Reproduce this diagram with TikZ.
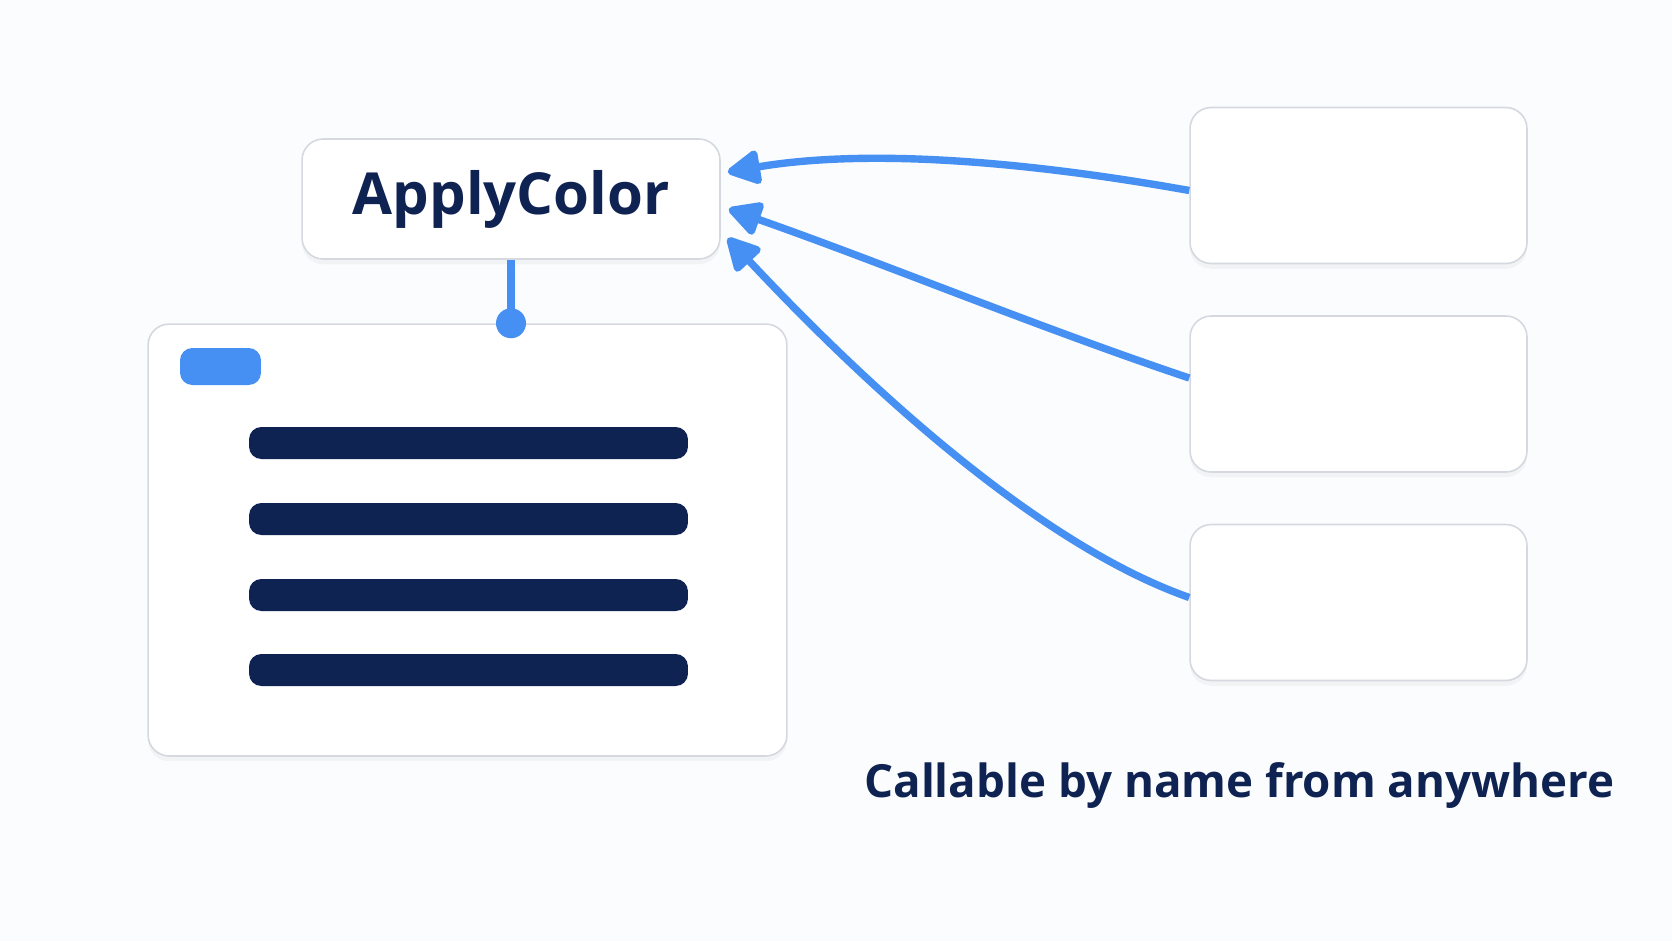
\documentclass[tikz,border=0pt]{standalone}
\usepackage{fontspec}
\setmainfont{Open Sans}
\usetikzlibrary{arrows.meta,shadows,calc}
\definecolor{callblue}{HTML}{4590F2}
\definecolor{navy}{HTML}{0F2352}
\definecolor{edgegray}{HTML}{D5D8DE}
\definecolor{paper}{HTML}{FBFCFD}
\tikzset{
  card/.style={draw=edgegray,line width=0.9pt,fill=white,rounded corners=12pt,
    inner sep=0pt,drop shadow={opacity=0.07,shadow xshift=0pt,shadow yshift=-3pt}},
  bar/.style={fill=navy,rounded corners=7pt,minimum width=8.78cm,minimum height=0.64cm,inner sep=0pt},
  call/.style={draw=callblue,line width=4.2pt,-{Triangle[length=21pt,width=21pt,round]}},
}
\begin{document}
\begin{tikzpicture}[x=0.02cm,y=-0.02cm]
  \fill[paper] (0,0) rectangle (1672,941);
  \useasboundingbox (0,0) rectangle (1672,941);
  % function box and its body
  \node[card,minimum width=8.36cm,minimum height=2.4cm,font=\bfseries\fontsize{33}{38}\selectfont,text=navy]
    (apply) at (511,199) {ApplyColor};
  \node[card,minimum width=12.78cm,minimum height=8.64cm] (body) at (467.5,540) {};
  \node[fill=callblue,rounded corners=7pt,minimum width=1.62cm,minimum height=0.74cm,inner sep=0pt]
    (tag) at (220.5,366.5) {};
  \foreach \i/\y in {1/443,2/519,3/595,4/670}
    \node[bar] (line\i) at (468.5,\y) {};
  \coordinate (pin) at (apply.south |- body.north);
  \draw[callblue,line width=4.2pt] (apply.south) -- (pin);
  \fill[callblue] (pin) circle (0.3cm);
  % callers
  \node[card,minimum width=6.74cm,minimum height=3.12cm] (callerA) at (1358.5,185.5) {};
  \node[card,minimum width=6.74cm,minimum height=3.12cm] (callerB) at (1358.5,394) {};
  \node[card,minimum width=6.74cm,minimum height=3.12cm] (callerC) at (1358.5,602.5) {};
  \coordinate (tipA) at ($(apply.east)+(7,-27)$);
  \coordinate (tipB) at ($(apply.east)+(8,10)$);
  \coordinate (tipC) at ($(apply.east)+(7,39)$);
  \coordinate (fromA) at ($(callerA.west)+(0,5)$);
  \coordinate (fromB) at ($(callerB.west)+(0,-16)$);
  \coordinate (fromC) at ($(callerC.west)+(0,-5)$);
  \draw[call] (fromA) .. controls (1030,162) and (870,148) .. (tipA);
  \draw[call] (fromB) .. controls (1040,328) and (880,262) .. (tipB);
  \draw[call] (fromC) .. controls (1040,545) and (870,390) .. (tipC);
  \node[anchor=base west,inner sep=0pt,font=\bfseries\fontsize{26}{30}\selectfont,text=navy]
    (caption) at (864,797) {Callable by name from anywhere};
\end{tikzpicture}
\end{document}
